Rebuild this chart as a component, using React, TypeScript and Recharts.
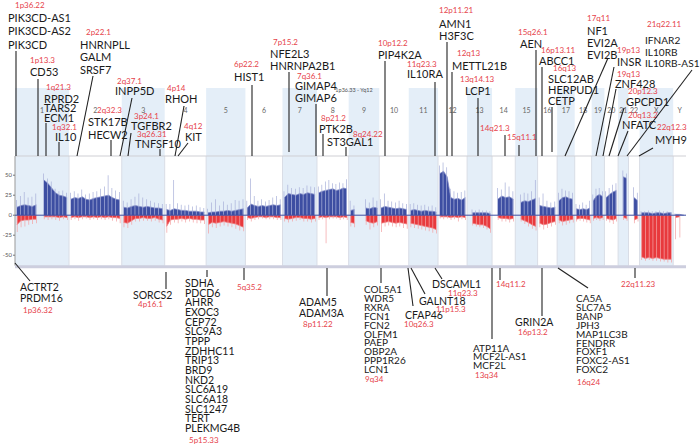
import React from "react";
import { ComposedChart, Area, Bar, XAxis, YAxis, ReferenceArea, ReferenceLine } from "recharts";

// chromosomes and their lengths (Mb, hg19)
const CHROMS = ["1", "2", "3", "4", "5", "6", "7", "8", "9", "10", "11", "12", "13", "14", "15", "16", "17", "18", "19", "20", "21", "22", "X", "Y"];
const CHROM_MB = [249, 243, 198, 191, 181, 171, 159, 146, 141, 136, 135, 134, 115, 107, 103, 90, 81, 78, 59, 63, 48, 51, 155, 59];

// % of samples with gain / loss, binned along each chromosome (null = no probes)
const GAIN: (number | null)[][] = [
  [10, 12, 13, 12, 11, 13, null, 44, 40, 34, 28, 25, 24, 22],
  [20, 22, 21, 23, 20, 19, 21, 22, 23, 24, 25, 22, 20, 19],
  [10, 9, 11, 12, 11, 10, 11, 10, 9, 9, 8],
  [7, 6, 8, 7, 6, 6, 5, 5, 5, 4, 4],
  [3, 4, 4, 5, 5, 6, 5, 6, 7, 8],
  [9, 14, 12, 11, 12, 11, 12, 13, 12, 13],
  [22, 27, 26, 25, 27, 26, 28, 27, 26],
  [28, 30, 31, 32, 33, 31, 32, 34, 33],
  [6, 7, null, null, 9, 8, 10, 9],
  [9, 11, 10, 9, 8, 9, 8, 7],
  [6, 7, 6, 5, 6, 5, 5, 4],
  [52, 55, 48, 22, 20, 21, 19, 22],
  [null, 3, 3, 3, 3, 3, 2],
  [null, 20, 24, 22, 23, 20],
  [null, 16, 18, 17, 19, 21],
  [12, 11, 10, 9, 10],
  [18, 22, 23, 21, 20],
  [8, 7, 8, 7, 9],
  [18, 24, 26, 23],
  [22, 26, 29, 31],
  [null, 48, 46],
  [null, 22, 18],
  [3, 3, 3, 2, 3, 3, 2, 3, 3],
  [1, 1, 0],
];
const GAIN_PEAK: (number | null)[][] = [
  [19, 24, 29, 22, 23, 27, null, 52, 46, 42, 33, 30, 31, 28],
  [28, 30, 27, 32, 26, 27, 29, 30, 33, 36, 50, 34, 31, 29],
  [18, 16, 20, 23, 27, 22, 20, 18, 16, 15, 14],
  [14, 14, 44, 15, 13, 12, 13, 11, 12, 10, 9],
  [8, 16, 20, 12, 17, 13, 15, 19, 18, 20],
  [18, 46, 24, 18, 20, 17, 19, 22, 24, 20],
  [30, 38, 34, 33, 35, 34, 37, 36, 35],
  [36, 38, 42, 44, 40, 39, 41, 40, 45],
  [18, 12, null, null, 20, 16, 22, 18],
  [20, 27, 18, 17, 16, 18, 15, 14],
  [14, 15, 13, 12, 13, 11, 12, 10],
  [62, 66, 60, 33, 30, 28, 29, 31],
  [null, 7, 6, 7, 6, 6, 5],
  [null, 34, 32, 41, 36, 30],
  [null, 26, 28, 27, 30, 44],
  [22, 27, 18, 16, 17],
  [28, 33, 31, 30, 28],
  [14, 13, 16, 13, 18],
  [26, 33, 34, 30],
  [30, 34, 38, 40],
  [null, 56, 52],
  [null, 35, 28],
  [5, 5, 6, 5, 5, 6, 5, 5, 4],
  [2, 1, 0],
];
const LOSS: (number | null)[][] = [
  [-12, -7, -6, -6, -5, -5, null, -2, -2, -2, -2, -3, -2, -3],
  [-3, -2, -3, -2, -2, -3, -2, -3, -2, -3, -2, -3, -3, -4],
  [-9, -10, -7, -4, -4, -3, -4, -4, -3, -5, -6],
  [-14, -6, -5, -5, -4, -5, -4, -5, -5, -6, -6],
  [-12, -9, -10, -9, -8, -9, -10, -11, -13, -15],
  [-3, -4, -3, -2, -2, -3, -2, -2, -3, -3],
  [-4, -5, -4, -3, -3, -4, -4, -5, -4],
  [-3, -2, -3, -2, -2, -2, -3, -2, -3],
  [-9, -10, null, null, -7, -9, -10, -8],
  [-10, -9, -8, -9, -10, -9, -10, -11],
  [-10, -11, -12, -13, -14, -15, -16, -18],
  [-2, -2, -2, -3, -2, -3, -2, -3],
  [null, -10, -11, -12, -12, -14, -17],
  [null, -3, -4, -4, -5, -4],
  [null, -5, -7, -9, -12, -14],
  [-10, -12, -11, -9, -8],
  [-6, -8, -7, -6, -5],
  [-5, -4, -4, -5, -6],
  [-4, -3, -4, -3],
  [-4, -5, -6, -4],
  [null, -3, -4],
  [null, -6, -4],
  [-52, -54, -53, -54, -53, -54, -55, -55, -55],
  [-3, -2, null],
];
const LOSS_PEAK: (number | null)[][] = [
  [-21, -15, -14, -12, -11, -10, null, -5, -6, -5, -6, -7, -5, -6],
  [-6, -5, -7, -5, -4, -6, -5, -6, -5, -6, -5, -7, -8, -10],
  [-15, -16, -12, -8, -8, -7, -7, -8, -7, -9, -10],
  [-22, -12, -9, -10, -8, -9, -8, -9, -10, -10, -11],
  [-23, -15, -16, -14, -13, -14, -15, -17, -19, -20],
  [-6, -8, -6, -5, -4, -5, -5, -5, -6, -6],
  [-8, -9, -8, -7, -6, -8, -8, -9, -8],
  [-6, -5, -35, -5, -4, -4, -6, -5, -6],
  [-14, -15, null, null, -12, -18, -15, -13],
  [-21, -14, -13, -14, -15, -14, -16, -17],
  [-15, -16, -17, -18, -19, -20, -22, -23],
  [-4, -5, -4, -6, -5, -8, -5, -6],
  [null, -13, -14, -15, -16, -18, -22],
  [null, -6, -8, -8, -9, -8],
  [null, -8, -11, -14, -17, -19],
  [-15, -18, -16, -14, -12],
  [-10, -13, -12, -10, -9],
  [-8, -7, -8, -9, -10],
  [-7, -6, -7, -6],
  [-7, -9, -11, -8],
  [null, -6, -7],
  [null, -10, -8],
  [-56, -57, -56, -57, -57, -58, -58, -59, -59],
  [-30, -28, null],
];

const Y_TICKS = [-50, -25, 0, 25, 50];

// gene call-outs: cytoband (red), genes (black), text anchor and leader line in px
type Callout = { band: string; bx: number; by: number; genes: string[]; gx: number; gy: number; step?: number; fs?: number; line: number[] };
const CALLOUTS: Callout[] = [
  { band: "1p36.22", bx: 15, by: 5, genes: ["PIK3CD-AS1", "PIK3CD-AS2", "PIK3CD"], gx: 8, gy: 17, step: 13.5, line: [16, 51, 16, 156] },
  { band: "1p13.3", bx: 30, by: 60, genes: ["CD53"], gx: 30, gy: 71, line: [38, 79, 38, 156] },
  { band: "1q21.3", bx: 46, by: 87, genes: ["RPRD2", "TARS2", "ECM1"], gx: 44, gy: 98, step: 9.5, line: [46, 123, 46, 156] },
  { band: "1q32.1", bx: 52, by: 127, genes: ["IL10"], gx: 55, gy: 136, line: [59, 142, 59, 156] },
  { band: "2p22.1", bx: 86, by: 32, genes: ["HNRNPLL", "GALM", "SRSF7"], gx: 80, gy: 44, step: 12.5, line: [93, 76, 77, 156] },
  { band: "2q32.3", bx: 97, by: 110, genes: ["STK17B", "HECW2"], gx: 88, gy: 121, step: 13, line: [111, 140, 111, 156] },
  { band: "2q37.1", bx: 117, by: 81, genes: ["INPP5D"], gx: 115, gy: 90, line: [132, 98, 120, 156] },
  { band: "3p24.1", bx: 134, by: 116, genes: ["TGFBR2"], gx: 131, gy: 125, line: [131, 133, 128, 156] },
  { band: "3q26.31", bx: 137, by: 134, genes: ["TNFSF10"], gx: 135, gy: 143, line: [160, 149, 160, 156] },
  { band: "4p14", bx: 167, by: 88, genes: ["RHOH"], gx: 165, gy: 98, line: [184, 106, 175, 156] },
  { band: "4q12", bx: 184, by: 126, genes: ["KIT"], gx: 185, gy: 136, line: [188, 143, 178, 156] },
  { band: "6p22.2", bx: 234, by: 64, genes: ["HIST1"], gx: 234, gy: 76, line: [252, 85, 252, 156] },
  { band: "7p15.2", bx: 273, by: 42, genes: ["NFE2L3", "HNRNPA2B1"], gx: 270, gy: 53, step: 12, line: [289, 72, 289, 152] },
  { band: "7q36.1", bx: 297, by: 76, genes: ["GIMAP4", "GIMAP6"], gx: 295, gy: 85, step: 12, line: [316, 104, 316, 156] },
  { band: "8p21.2", bx: 321, by: 118, genes: ["PTK2B"], gx: 319, gy: 128, line: [323, 134, 323, 156] },
  { band: "8q24.22", bx: 353, by: 134, genes: ["ST3GAL1"], gx: 327, gy: 141, line: [346, 147, 346, 156] },
  { band: "10p12.2", bx: 378, by: 43, genes: ["PIP4K2A"], gx: 378, gy: 54, line: [385, 61, 385, 156] },
  { band: "11q23.3", bx: 407, by: 64, genes: ["IL10RA"], gx: 407, gy: 73, line: [435, 82, 435, 156] },
  { band: "12p11.21", bx: 439, by: 10, genes: ["AMN1", "H3F3C"], gx: 439, gy: 23, step: 12, line: [447, 42, 447, 156] },
  { band: "12q13", bx: 457, by: 53, genes: ["METTL21B"], gx: 452, gy: 65, line: [452, 72, 452, 156] },
  { band: "13q14.13", bx: 460, by: 79, genes: ["LCP1"], gx: 465, gy: 90, line: [478, 98, 478, 156] },
  { band: "14q21.3", bx: 480, by: 128, genes: [], gx: 0, gy: 0, line: [505, 135, 505, 156] },
  { band: "15q11.1", bx: 507, by: 137, genes: [], gx: 0, gy: 0, line: [519, 145, 519, 156] },
  { band: "15q26.1", bx: 518, by: 32, genes: ["AEN"], gx: 520, gy: 43, line: [536, 50, 536, 156] },
  { band: "16p13.11", bx: 541, by: 50, genes: ["ABCC1"], gx: 539, gy: 60, line: [542, 67, 542, 156] },
  { band: "16q13", bx: 553, by: 68, genes: ["SLC12AB", "HERPUD1", "CETP"], gx: 548, gy: 78, step: 11, line: [552, 107, 552, 152] },
  { band: "17q11", bx: 587, by: 18, genes: ["NF1", "EVI2A", "EVI2B"], gx: 587, gy: 30, step: 12, line: [608, 58, 565, 156] },
  { band: "19p13", bx: 617, by: 50, genes: ["INSR"], gx: 617, gy: 61, line: [614, 67, 596, 156] },
  { band: "19q13", bx: 617, by: 74, genes: ["ZNF428"], gx: 615, gy: 83, line: [616, 89, 603, 156] },
  { band: "20p12.3", bx: 628, by: 91, genes: ["GPCPD1"], gx: 626, gy: 101, line: [624, 108, 609, 156] },
  { band: "20q13.2", bx: 628, by: 115, genes: ["NFATC"], gx: 622, gy: 124, line: [628, 131, 618, 156] },
  { band: "22q12.3", bx: 657, by: 127, genes: ["MYH9"], gx: 655, gy: 139, line: [653, 148, 639, 156] },
  { band: "21q22.11", bx: 647, by: 24, genes: ["IFNAR2", "IL10RB", "IL10RB-AS1"], gx: 645, gy: 40, step: 11.5, fs: 10.1, line: [692, 70, 627, 156] },
  // below the profile
  { band: "1p36.32", bx: 23, by: 310, genes: ["ACTRT2", "PRDM16"], gx: 20, gy: 287, step: 11, fs: 10.5, line: [15, 263, 30, 281] },
  { band: "4p16.1", bx: 138, by: 304, genes: ["SORCS2"], gx: 133, gy: 295, fs: 10.5, line: [166, 272, 166, 289] },
  { band: "5p15.33", bx: 189, by: 440, genes: ["SDHA", "PDCD6", "AHRR", "EXOC3", "CEP72", "SLC9A3", "TPPP", "ZDHHC11", "TRIP13", "BRD9", "NKD2", "SLC6A19", "SLC6A18", "SLC1247", "TERT", "PLEKMG4B"], gx: 185, gy: 283, step: 9.67, fs: 10.5, line: [207, 270, 207, 277] },
  { band: "5q35.2", bx: 237, by: 287, genes: [], gx: 0, gy: 0, line: [244, 268, 244, 280] },
  { band: "8p11.22", bx: 303, by: 324, genes: ["ADAM5", "ADAM3A"], gx: 299, gy: 302, step: 11, fs: 10.5, line: [327, 268, 327, 296] },
  { band: "9q34", bx: 365, by: 379, genes: ["COL5A1", "WDR5", "RXRA", "FCN1", "FCN2", "OLFM1", "PAEP", "OBP2A", "PPP1R26", "LCN1"], gx: 364, gy: 289, step: 8.9, fs: 10, line: [381, 268, 381, 283] },
  { band: "10q26.3", bx: 404, by: 324, genes: ["CFAP46"], gx: 405, gy: 315, fs: 10.5, line: [408, 268, 413, 306] },
  { band: "11p15.3", bx: 436, by: 309, genes: ["GALNT18"], gx: 419, gy: 301, fs: 10.5, line: [411, 268, 425, 294] },
  { band: "11q23.3", bx: 448, by: 293, genes: ["DSCAML1"], gx: 432, gy: 284, fs: 10.5, line: [435, 268, 442, 279] },
  { band: "13q34", bx: 475, by: 375, genes: ["ATP11A", "MCF2L-AS1", "MCF2L"], gx: 473, gy: 348, step: 8.3, fs: 10, line: [492, 268, 492, 339] },
  { band: "14q11.2", bx: 496, by: 284, genes: [], gx: 0, gy: 0, line: [500, 268, 500, 280] },
  { band: "16p13.2", bx: 518, by: 332, genes: ["GRIN2A"], gx: 515, gy: 322, fs: 10.5, line: [542, 268, 542, 316] },
  { band: "16q24", bx: 577, by: 382, genes: ["CA5A", "SLC7A5", "BANP", "JPH3", "MAP1LC3B", "FENDRR", "FOXF1", "FOXC2-AS1", "FOXC2"], gx: 576, gy: 298, step: 8.9, fs: 10, line: [558, 268, 588, 288] },
  { band: "22q11.23", bx: 621, by: 284, genes: [], gx: 0, gy: 0, line: [635, 268, 635, 278] },
];

const BLUE = "#3d4ea2";
const BLUE_LIGHT = "#aab2da";
const RED = "#e8393d";
const RED_LIGHT = "#f3a3a5";
const BAND = "#e4eef8";
const LABEL_RED = "#e6434b";
const FONT = "Lato, 'Liberation Sans', sans-serif";

const TOTAL = CHROM_MB.reduce((s, v) => s + v, 0);
const starts: number[] = [];
CHROM_MB.reduce((s, v) => { starts.push(s); return s + v; }, 0);

type Row = { pos: number; gain: number | null; gainPeak: number | null; loss: number | null; lossPeak: number | null };
const rows: Row[] = [];
CHROMS.forEach((_, c) => {
  const n = GAIN[c].length;
  rows.push({ pos: starts[c], gain: null, gainPeak: null, loss: null, lossPeak: null });
  for (let i = 0; i < n; i++) {
    rows.push({
      pos: starts[c] + ((i + 0.5) * CHROM_MB[c]) / n,
      gain: GAIN[c][i],
      gainPeak: GAIN_PEAK[c][i],
      loss: LOSS[c][i],
      lossPeak: LOSS_PEAK[c][i],
    });
  }
});
rows.push({ pos: TOTAL, gain: null, gainPeak: null, loss: null, lossPeak: null });

function Callouts() {
  return (
    <svg width={700} height={447} style={{ position: "absolute", left: 0, top: 0, pointerEvents: "none" }}>
      {CALLOUTS.map((a, k) => (
        <g key={k} fontFamily={FONT}>
          <line x1={a.line[0]} y1={a.line[1]} x2={a.line[2]} y2={a.line[3]} stroke="#222" strokeWidth={1.1} />
          <text x={a.bx} y={a.by} fontSize={8} fill={LABEL_RED} dominantBaseline="central">{a.band}</text>
          {a.genes.map((g, i) => (
            <text key={g} x={a.gx} y={a.gy + i * (a.step ?? 12)} fontSize={a.fs ?? 11} fill="#1a1a1a" dominantBaseline="central">
              {g}
            </text>
          ))}
        </g>
      ))}
      <text x={354} y={92} fontSize={5.5} fill="#555" textAnchor="middle" fontFamily={FONT}>1p36.33 - Yq12</text>
    </svg>
  );
}

export default function App() {
  return (
    <div style={{ position: "absolute", left: 0, top: 0, width: 700, height: 447, background: "#fff" }}>
      <ComposedChart width={700} height={447} data={rows} margin={{ top: 88, right: 14, bottom: 179, left: 0 }} barGap={0}>
        <XAxis type="number" dataKey="pos" domain={[0, TOTAL]} hide allowDataOverflow />
        <YAxis
          type="number"
          domain={[-66, 159]}
          ticks={Y_TICKS}
          interval={0}
          width={15}
          axisLine={false}
          tickSize={2}
          tickMargin={1}
          tickLine={{ stroke: "#777" }}
          tick={{ fontSize: 6, fill: "#555", fontFamily: FONT }}
          allowDataOverflow
        />
        {CHROMS.map((name, c) => (
          <ReferenceArea
            key={name}
            x1={starts[c]}
            x2={starts[c] + CHROM_MB[c]}
            fill={c % 2 === 0 ? BAND : "#ffffff"}
            fillOpacity={c % 2 === 0 ? 1 : 0}
            stroke="none"
            label={{ value: name, position: "insideTop", offset: 20, fontSize: 7, fill: "#666", fontFamily: FONT }}
          />
        ))}
        {starts.slice(1).map((s) => (
          <ReferenceLine key={s} segment={[{ x: s, y: -63 }, { x: s, y: 74 }]} stroke="#d9dde6" strokeWidth={1} />
        ))}
        <ReferenceLine y={74} stroke="#cfcfd4" strokeWidth={1} />
        <ReferenceLine segment={[{ x: 0, y: -63 }, { x: 0, y: 74 }]} stroke="#999" strokeWidth={1} />
        <Bar dataKey="gainPeak" fill={BLUE_LIGHT} barSize={1.6} isAnimationActive={false} />
        <Bar dataKey="lossPeak" fill={RED_LIGHT} barSize={1.6} isAnimationActive={false} />
        <Area type="linear" dataKey="gain" fill={BLUE} fillOpacity={1} stroke="#7d88c4" strokeWidth={0.8} baseValue={0} isAnimationActive={false} />
        <Area type="linear" dataKey="loss" fill={RED} fillOpacity={1} stroke="#ee7376" strokeWidth={0.8} baseValue={0} isAnimationActive={false} />
        <ReferenceLine y={0} stroke={BLUE} strokeWidth={1} />
        <ReferenceLine y={-64.5} stroke="#cdcede" strokeWidth={3} />
      </ComposedChart>
      <Callouts />
    </div>
  );
}
